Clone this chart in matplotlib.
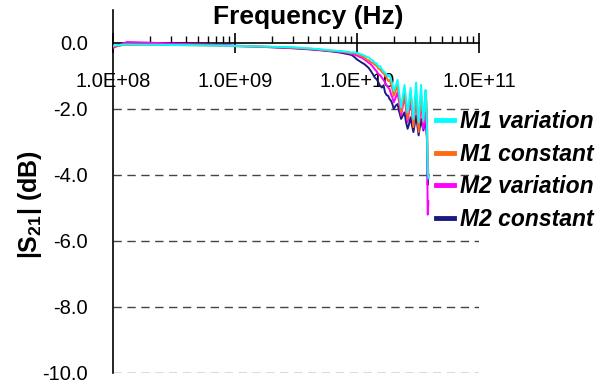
import matplotlib
matplotlib.use("Agg")
import matplotlib.pyplot as plt
from matplotlib.ticker import FixedLocator, LogLocator, NullFormatter

plt.rcParams['font.family'] = ['Liberation Sans', 'DejaVu Sans']
plt.rcParams['mathtext.fontset'] = 'custom'
plt.rcParams['mathtext.rm'] = 'Liberation Sans:bold'
plt.rcParams['mathtext.bf'] = 'Liberation Sans:bold'
plt.rcParams['mathtext.default'] = 'bf'

# Frequency (GHz)
freq_ghz = [0.1, 0.13, 0.2, 0.3, 0.5, 0.8, 1.0, 1.5, 2, 3, 4, 5, 6, 7,
            8, 8.5, 9, 9.5, 10, 10.5, 11, 11.5, 12, 12.5, 13, 13.5, 14, 14.5,
            15, 15.5, 16, 16.5, 17, 17.5, 18, 18.5, 19, 19.5,
            20, 20.75, 21.5, 22.25, 23, 23.75, 24.5, 25.25, 26, 26.75, 27.5,
            28.25, 29, 29.75, 30.5, 31.25, 32, 32.75, 33.5, 34.25, 35, 35.75,
            36.5, 37, 37.5, 38, 38.5]

m1_variation = [-0.08, -0.04, -0.05, -0.06, -0.07, -0.08, -0.09, -0.10, -0.11, -0.13, -0.16, -0.19, -0.22, -0.24,
                -0.26, -0.27, -0.29, -0.28, -0.30, -0.33, -0.35, -0.38, -0.42, -0.44, -0.50, -0.53, -0.60, -0.62,
                -0.72, -0.70, -0.80, -0.86, -0.90, -0.96, -1.02, -0.98, -1.10, -1.25,
                -1.45, -1.30, -1.12, -1.55, -1.95, -1.60, -1.27, -1.70, -2.10, -1.75, -1.36,
                -1.85, -2.30, -1.70, -1.20, -1.90, -2.40, -1.80, -1.27, -1.85, -2.35, -1.90,
                -1.42, -1.90, -2.60, -3.90, -4.10]

m1_constant = [-0.10, -0.05, -0.05, -0.06, -0.07, -0.08, -0.10, -0.11, -0.12, -0.14, -0.17, -0.20, -0.23, -0.25,
               -0.27, -0.29, -0.30, -0.31, -0.33, -0.37, -0.40, -0.44, -0.50, -0.53, -0.58, -0.61, -0.66, -0.70,
               -0.78, -0.80, -0.88, -0.92, -0.98, -1.05, -1.15, -1.12, -1.25, -1.40,
               -1.60, -1.45, -1.30, -1.70, -2.10, -1.80, -1.45, -1.90, -2.30, -1.90, -1.50,
               -2.00, -2.55, -2.00, -1.50, -2.10, -2.70, -2.10, -1.55, -2.00, -2.40, -1.90,
               -1.45, -1.70, -2.20, -3.60, -4.00]

m2_variation = [-0.15, 0.03, 0.01, -0.02, -0.04, -0.06, -0.08, -0.10, -0.12, -0.15, -0.18, -0.21, -0.24, -0.26,
                -0.29, -0.31, -0.33, -0.35, -0.38, -0.42, -0.45, -0.50, -0.55, -0.60, -0.65, -0.72, -0.80, -0.86,
                -0.95, -0.98, -1.05, -1.12, -1.20, -1.28, -1.35, -1.40, -1.55, -1.65,
                -1.80, -1.65, -1.50, -1.85, -2.20, -1.90, -1.60, -2.00, -2.40, -2.05, -1.70,
                -2.10, -2.50, -2.10, -1.75, -2.15, -2.55, -2.20, -1.80, -2.20, -2.60, -2.35,
                -2.10, -2.50, -3.00, -5.20, -4.80]

m2_constant = [-0.10, -0.04, -0.04, -0.05, -0.06, -0.07, -0.09, -0.11, -0.13, -0.16, -0.19, -0.22, -0.25, -0.28,
               -0.32, -0.34, -0.36, -0.42, -0.50, -0.55, -0.60, -0.64, -0.70, -0.76, -0.85, -0.95, -1.05, -1.10,
               -1.20, -1.30, -1.35, -1.28, -1.50, -1.58, -1.60, -1.70, -1.75, -1.85,
               -2.00, -1.90, -1.85, -2.10, -2.30, -2.20, -2.10, -2.40, -2.60, -2.45, -2.25,
               -2.50, -2.70, -2.45, -2.20, -2.50, -2.80, -2.55, -2.30, -2.50, -2.65, -2.50,
               -2.40, -2.60, -2.90, -4.30, -4.00]

series_names = ['M1 variation', 'M1 constant', 'M2 variation', 'M2 constant']
series_colors = ['#00FFFF', '#FF6A13', '#FF00FF', '#1A1A80']

x_ticks = [1e8, 1e9, 1e10, 1e11]
x_tick_labels = ['1.0E+08', '1.0E+09', '1.0E+10', '1.0E+11']
y_ticks = [0, -2, -4, -6, -8, -10]
y_tick_labels = ['0.0', '-2.0', '-4.0', '-6.0', '-8.0', '-10.0']

freq_hz = [f * 1e9 for f in freq_ghz]
data = [m1_variation, m1_constant, m2_variation, m2_constant]

fig = plt.figure(figsize=(6.12, 3.87), dpi=100)
ax = fig.add_axes([113/612, 1-373/387, (479-113)/612, (373-10)/387])

ax.set_xscale('log')
ax.set_xlim(1e8, 1e11)
ax.set_ylim(-10, 1)

# gridlines
for yv in y_ticks[1:]:
    ax.axhline(yv, color='#444444', lw=1.0, ls=(0, (6, 4)), zorder=1)

handles = []
zorders = [5, 4, 3, 2]
for vals, name, col, zo in zip(data, series_names, series_colors, zorders):
    h, = ax.plot(freq_hz, vals, color=col, lw=1.4, label=name, zorder=zo)
    handles.append(h)

ax.spines['right'].set_visible(False)
ax.spines['top'].set_visible(False)
ax.spines['bottom'].set_position(('data', 0))
ax.spines['bottom'].set_linewidth(1.2)
ax.spines['left'].set_linewidth(1.2)

ax.xaxis.set_major_locator(FixedLocator(x_ticks))
ax.set_xticklabels(x_tick_labels)
ax.xaxis.set_minor_locator(LogLocator(base=10, subs=range(2, 10)))
ax.xaxis.set_minor_formatter(NullFormatter())
ax.tick_params(axis='x', which='major', direction='inout', length=14, width=1.2,
               pad=14, labelsize=14.5)
ax.tick_params(axis='x', which='minor', direction='in', length=5, width=1.0)

ax.set_yticks(y_ticks)
ax.set_yticklabels(y_tick_labels)
ax.tick_params(axis='y', which='major', direction='in', length=0, width=1.0,
               pad=18, labelsize=14.5)

fig.text(308/612, 1-17/387, 'Frequency (Hz)', ha='center', va='center',
         fontsize=19, fontweight='bold')
fig.text(30/612, 1-205/387, '|S$_{21}$| (dB)', ha='center', va='center',
         rotation=90, fontsize=18, fontweight='bold')

leg = fig.legend(handles=handles, loc='upper left',
                 bbox_to_anchor=(436/612, 1-110/387), frameon=False,
                 prop={'weight': 'bold', 'style': 'italic', 'size': 16.5},
                 handlelength=0.8, handletextpad=0.25, labelspacing=0.42,
                 borderaxespad=0, borderpad=0)
for lh in leg.get_lines():
    lh.set_linewidth(3.5)

fig.savefig('out.png', dpi=100)
